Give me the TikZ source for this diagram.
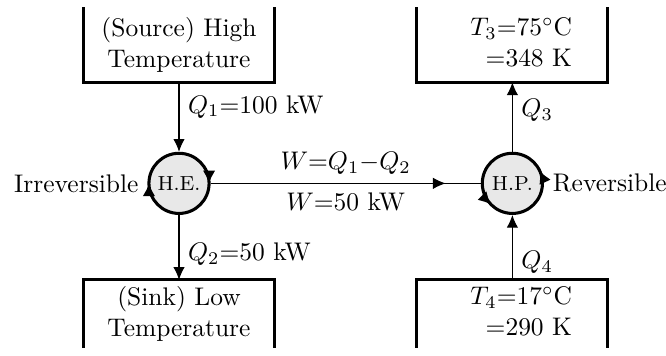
\documentclass[tikz,border=0pt]{standalone}
\usepackage{amsmath}
\usetikzlibrary{arrows.meta, positioning, decorations.markings}

\begin{document}
\begin{tikzpicture}[>={Latex[length=5pt,width=4.5pt]}]
\tikzset{
  res/.style={rectangle, minimum width=2.62cm, inner sep=0, align=center},
  eng/.style={circle, draw, very thick, fill=gray!18, minimum size=8.3mm, inner sep=0, font=\footnotesize},
  wall/.style={very thick},
  flow/.style={->, thin},
  spin/.style={very thick, -{Latex[length=5pt,width=5pt]}}
}
\useasboundingbox (0,0) rectangle (9.19,4.90);
% reservoirs, open on the outer side
\node[res, minimum height=1.02cm] (src) at (2.47,4.28) {(Source) High\\Temperature};
\node[res, minimum height=0.925cm] (snk) at (2.47,0.57) {(Sink) Low\\Temperature};
\node[res, minimum height=1.02cm] (hot) at (7.07,4.28)
  {\hspace*{7pt}\begin{tabular}{@{}l@{}}$T_3{=}75^\circ$C\\\hspace*{6pt}${=}348$ K\end{tabular}};
\node[res, minimum height=0.925cm] (cold) at (7.07,0.57)
  {\hspace*{7pt}\begin{tabular}{@{}l@{}}$T_4{=}17^\circ$C\\\hspace*{6pt}${=}290$ K\end{tabular}};
\foreach \n in {src,hot}
  \draw[wall] (\n.north west) |- (\n.south east) -- (\n.north east);
\foreach \n in {snk,cold}
  \draw[wall] (\n.south west) |- (\n.north east) -- (\n.south east);
% engine and heat pump
\node[eng] (he) at (2.47,2.37) {H.E.};
\node[eng] (hp) at (7.07,2.37) {H.P.};
\foreach \s/\e in {25/0, 205/180}
  \draw[spin] (he.center) ++(\s:0.415) arc[start angle=\s, end angle=\e, radius=0.415];
\foreach \s/\e in {0/25, 200/225}
  \draw[spin] (hp.center) ++(\s:0.415) arc[start angle=\s, end angle=\e, radius=0.415];
\node[left=0pt of he] (irr) {Irreversible};
\node[right=0pt of hp] (rev) {Reversible};
% heat and work flows
\draw[flow] (src) -- (he) node[pos=0.35, right] {$Q_1{=}100$ kW};
\draw[flow] (he) -- (snk) node[pos=0.6, right] {$Q_2{=}50$ kW};
\draw[flow] (hp) -- (hot) node[pos=0.6, right] {$Q_3$};
\draw[flow] (cold) -- (hp) node[pos=0.27, right] {$Q_4$};
\draw[thin, postaction={decorate},
  decoration={markings, mark=at position 0.87 with {\arrow{>}}}]
  (he) -- (hp) node[midway, above] {$W{=}Q_1{-}Q_2$} node[midway, below] {$W{=}50$ kW};
\end{tikzpicture}
\end{document}
